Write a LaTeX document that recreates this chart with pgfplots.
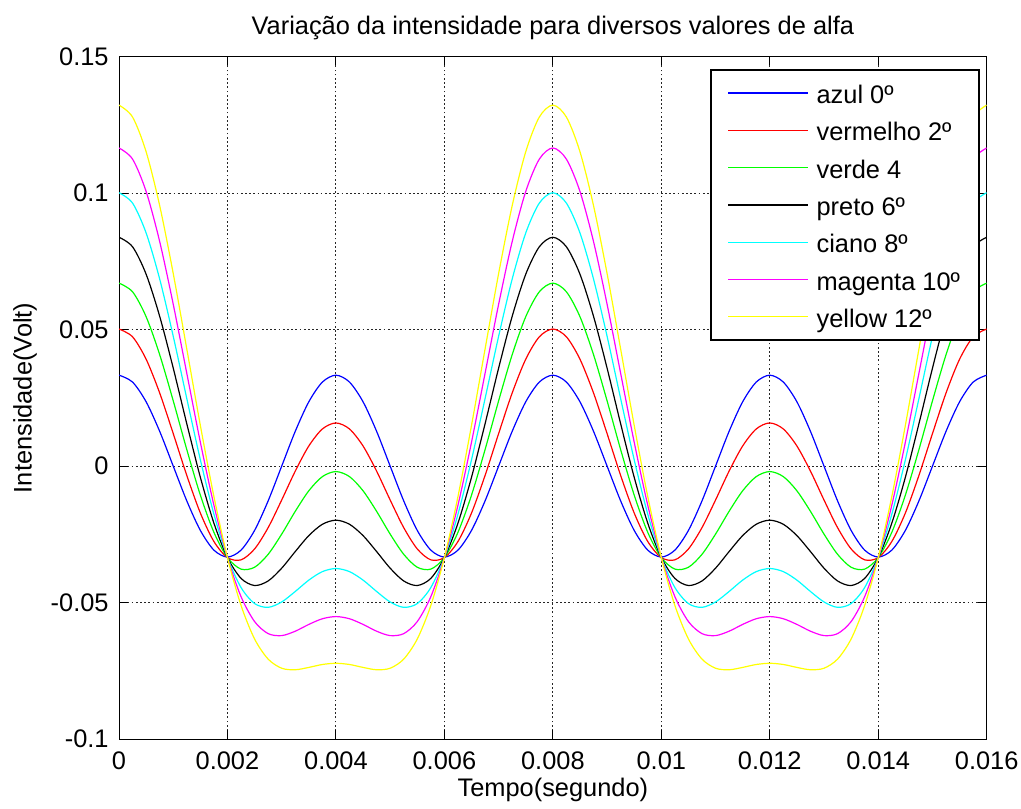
\documentclass[border=0pt]{standalone}
\usepackage{fontspec}
\setmainfont{Liberation Sans}
\usepackage{pgfplots}
\usepackage{pgfplotstable}
\pgfplotsset{compat=1.18}

\definecolor{mblue}{RGB}{0,0,255}
\definecolor{mred}{RGB}{255,0,0}
\definecolor{mgreen}{RGB}{0,255,0}
\definecolor{mblack}{RGB}{0,0,0}
\definecolor{mcyan}{RGB}{0,255,255}
\definecolor{mmagenta}{RGB}{255,0,255}
\definecolor{myellow}{RGB}{255,255,0}

% t, azul, vermelho, verde, preto, ciano, magenta, yellow
\pgfplotstableread{
t       b        r        g        k        c        m        y
0       0.0333   0.0502   0.0670   0.0838   0.1001   0.1165   0.1322
0.00025 0.03077  0.04734  0.06383  0.08031  0.09631  0.11241  0.12782
0.0005  0.02355  0.03915  0.05471  0.07027  0.08537  0.10057  0.11512
0.00075 0.01274  0.02678  0.04081  0.05485  0.06850  0.08222  0.09538
0.001   0.00000  0.01191  0.02390  0.03588  0.04755  0.05927  0.07052
0.00125 -0.01274 -0.00342 0.00604  0.01550  0.02472  0.03398  0.04288
0.0015  -0.02355 -0.01718 -0.01063 -0.00409 0.00232  0.00874  0.01491
0.00175 -0.03077 -0.02761 -0.02426 -0.02090 -0.01761 -0.01432 -0.01115
0.002   -0.0333  -0.0335  -0.0335  -0.0335  -0.0335  -0.0335  -0.0335
0.00225 -0.03077 -0.03433 -0.03772 -0.04111 -0.04446 -0.04780 -0.05102
0.0025  -0.02355 -0.03034 -0.03704 -0.04373 -0.05034 -0.05693 -0.06331
0.00275 -0.01274 -0.02253 -0.03230 -0.04206 -0.05172 -0.06135 -0.07068
0.003   0.00000  -0.01241 -0.02490 -0.03738 -0.04975 -0.06207 -0.07402
0.00325 0.01274  -0.00183 -0.01656 -0.03129 -0.04591 -0.06046 -0.07458
0.0035  0.02355  0.00737  -0.00904 -0.02545 -0.04175 -0.05797 -0.07372
0.00375 0.03077  0.01360  -0.00385 -0.02130 -0.03864 -0.05590 -0.07265
0.004   0.0333   0.0158   -0.0020  -0.0198  -0.0375  -0.0551  -0.0722
0.00425 0.03077  0.01360  -0.00385 -0.02130 -0.03864 -0.05590 -0.07265
0.0045  0.02355  0.00737  -0.00904 -0.02545 -0.04175 -0.05797 -0.07372
0.00475 0.01274  -0.00183 -0.01656 -0.03129 -0.04591 -0.06046 -0.07458
0.005   0.00000  -0.01241 -0.02490 -0.03738 -0.04975 -0.06207 -0.07402
0.00525 -0.01274 -0.02253 -0.03230 -0.04206 -0.05172 -0.06135 -0.07068
0.0055  -0.02355 -0.03034 -0.03704 -0.04373 -0.05034 -0.05693 -0.06331
0.00575 -0.03077 -0.03433 -0.03772 -0.04111 -0.04446 -0.04780 -0.05102
0.006   -0.0333  -0.0335  -0.0335  -0.0335  -0.0335  -0.0335  -0.0335
0.00625 -0.03077 -0.02761 -0.02426 -0.02090 -0.01761 -0.01432 -0.01115
0.0065  -0.02355 -0.01718 -0.01063 -0.00409 0.00232  0.00874  0.01491
0.00675 -0.01274 -0.00342 0.00604  0.01550  0.02472  0.03398  0.04288
0.007   0.00000  0.01191  0.02390  0.03588  0.04755  0.05927  0.07052
0.00725 0.01274  0.02678  0.04081  0.05485  0.06850  0.08222  0.09538
0.0075  0.02355  0.03915  0.05471  0.07027  0.08537  0.10057  0.11512
0.00775 0.03077  0.04734  0.06383  0.08031  0.09631  0.11241  0.12782
0.008   0.0333   0.0502   0.0670   0.0838   0.1001   0.1165   0.1322
0.00825 0.03077  0.04734  0.06383  0.08031  0.09631  0.11241  0.12782
0.0085  0.02355  0.03915  0.05471  0.07027  0.08537  0.10057  0.11512
0.00875 0.01274  0.02678  0.04081  0.05485  0.06850  0.08222  0.09538
0.009   0.00000  0.01191  0.02390  0.03588  0.04755  0.05927  0.07052
0.00925 -0.01274 -0.00342 0.00604  0.01550  0.02472  0.03398  0.04288
0.0095  -0.02355 -0.01718 -0.01063 -0.00409 0.00232  0.00874  0.01491
0.00975 -0.03077 -0.02761 -0.02426 -0.02090 -0.01761 -0.01432 -0.01115
0.01    -0.0333  -0.0335  -0.0335  -0.0335  -0.0335  -0.0335  -0.0335
0.01025 -0.03077 -0.03433 -0.03772 -0.04111 -0.04446 -0.04780 -0.05102
0.0105  -0.02355 -0.03034 -0.03704 -0.04373 -0.05034 -0.05693 -0.06331
0.01075 -0.01274 -0.02253 -0.03230 -0.04206 -0.05172 -0.06135 -0.07068
0.011   0.00000  -0.01241 -0.02490 -0.03738 -0.04975 -0.06207 -0.07402
0.01125 0.01274  -0.00183 -0.01656 -0.03129 -0.04591 -0.06046 -0.07458
0.0115  0.02355  0.00737  -0.00904 -0.02545 -0.04175 -0.05797 -0.07372
0.01175 0.03077  0.01360  -0.00385 -0.02130 -0.03864 -0.05590 -0.07265
0.012   0.0333   0.0158   -0.0020  -0.0198  -0.0375  -0.0551  -0.0722
0.01225 0.03077  0.01360  -0.00385 -0.02130 -0.03864 -0.05590 -0.07265
0.0125  0.02355  0.00737  -0.00904 -0.02545 -0.04175 -0.05797 -0.07372
0.01275 0.01274  -0.00183 -0.01656 -0.03129 -0.04591 -0.06046 -0.07458
0.013   0.00000  -0.01241 -0.02490 -0.03738 -0.04975 -0.06207 -0.07402
0.01325 -0.01274 -0.02253 -0.03230 -0.04206 -0.05172 -0.06135 -0.07068
0.0135  -0.02355 -0.03034 -0.03704 -0.04373 -0.05034 -0.05693 -0.06331
0.01375 -0.03077 -0.03433 -0.03772 -0.04111 -0.04446 -0.04780 -0.05102
0.014   -0.0333  -0.0335  -0.0335  -0.0335  -0.0335  -0.0335  -0.0335
0.01425 -0.03077 -0.02761 -0.02426 -0.02090 -0.01761 -0.01432 -0.01115
0.0145  -0.02355 -0.01718 -0.01063 -0.00409 0.00232  0.00874  0.01491
0.01475 -0.01274 -0.00342 0.00604  0.01550  0.02472  0.03398  0.04288
0.015   0.00000  0.01191  0.02390  0.03588  0.04755  0.05927  0.07052
0.01525 0.01274  0.02678  0.04081  0.05485  0.06850  0.08222  0.09538
0.0155  0.02355  0.03915  0.05471  0.07027  0.08537  0.10057  0.11512
0.01575 0.03077  0.04734  0.06383  0.08031  0.09631  0.11241  0.12782
0.016   0.0333   0.0502   0.0670   0.0838   0.1001   0.1165   0.1322
}\intensidade

\newcommand{\leg}[1]{\makebox[76.7pt][l]{\hspace*{3.85pt}#1}}

\begin{document}
\begin{tikzpicture}[font=\fontsize{12.7}{15}\selectfont]
\begin{axis}[
    name=ax,
    scale only axis,
    width=433.8pt, height=341.3pt,
    xmin=0, xmax=0.016,
    ymin=-0.1, ymax=0.15,
    xtick={0,0.002,0.004,0.006,0.008,0.01,0.012,0.014,0.016},
    xticklabels={0,0.002,0.004,0.006,0.008,0.01,0.012,0.014,0.016},
    ytick={-0.1,-0.05,0,0.05,0.1,0.15},
    yticklabels={-0.1,-0.05,0,0.05,0.1,0.15},
    xticklabel style={anchor=base, inner sep=0pt, yshift=-15pt},
    yticklabel style={anchor=east, inner sep=0pt, xshift=-5pt},
    grid=major,
    major grid style={black!85, line width=0.5pt, dash pattern=on 0.85pt off 1.25pt},
    tick align=inside,
    major tick length=4.4pt,
    tick style={black, line width=0.5pt},
    axis line style={black, line width=0.5pt},
    every axis title shift=0pt,
    title={Variação da intensidade para diversos valores de alfa},
    title style={at={(axis description cs:0.5,1.032)}, anchor=base, inner sep=0pt},
    xlabel={Tempo(segundo)},
    xlabel style={at={(axis description cs:0.5,-0.0835)}, anchor=base, inner sep=0pt},
    ylabel={Intensidade(Volt)},
    ylabel style={at={(axis description cs:-0.1006,0.5)}, anchor=base, inner sep=0pt},
    legend image code/.code={\draw[#1, line width=0.6pt] (0pt,0pt) -- (40pt,0pt);},
    legend cell align=left,
    legend style={
        name=leg,
        at={(axis description cs:1,1)}, anchor=north east,
        xshift=-3.7pt, yshift=-6.75pt,
        draw=none, fill=white,
        inner xsep=8.3pt, inner ysep=2pt,
        row sep=0pt,
        nodes={inner sep=0pt, text height=14.6pt, text depth=4.05pt, anchor=west},
    },
    every axis plot/.append style={line width=0.6pt, smooth},
]
\addplot[color=mblue]    table[x=t, y=b] {\intensidade};
\addlegendentry{\leg{azul 0º}}
\addplot[color=mred]     table[x=t, y=r] {\intensidade};
\addlegendentry{\leg{vermelho 2º}}
\addplot[color=mgreen]   table[x=t, y=g] {\intensidade};
\addlegendentry{\leg{verde 4}}
\addplot[color=mblack]   table[x=t, y=k] {\intensidade};
\addlegendentry{\leg{preto 6º}}
\addplot[color=mcyan]    table[x=t, y=c] {\intensidade};
\addlegendentry{\leg{ciano 8º}}
\addplot[color=mmagenta] table[x=t, y=m] {\intensidade};
\addlegendentry{\leg{magenta 10º}}
\addplot[color=myellow]  table[x=t, y=y] {\intensidade};
\addlegendentry{\leg{yellow 12º}}
\end{axis}
\draw[black, line width=1pt] (leg.south west) rectangle (leg.north east);
\pgfresetboundingbox
\path[use as bounding box] ([xshift=-59.5pt, yshift=-34.5pt]ax.south west)
    rectangle ([xshift=17.15pt, yshift=28.25pt]ax.north east);
\end{tikzpicture}
\end{document}
